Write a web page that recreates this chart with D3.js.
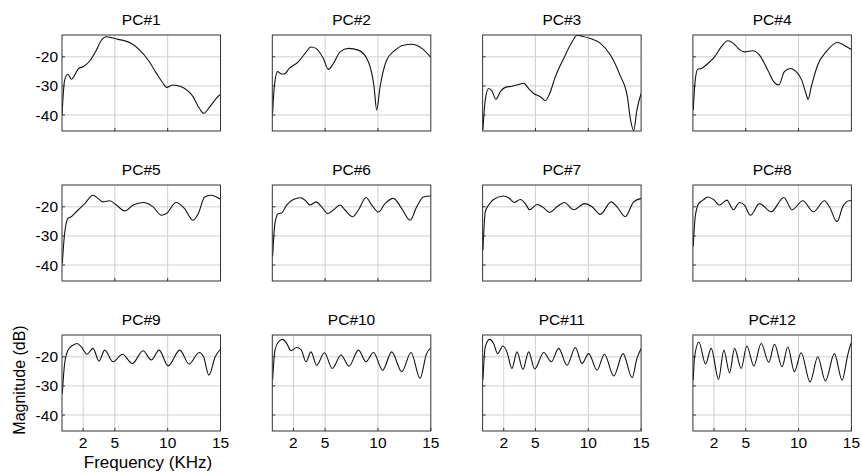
<!DOCTYPE html>
<html>
<head>
<meta charset="utf-8">
<script src="https://cdn.jsdelivr.net/npm/d3@7"></script>
<style>
  body { margin: 0; background: #fff; }
  text { font-family: 'Liberation Sans', Arial, sans-serif; fill: #000; }
</style>
</head>
<body>
<div id="canvas"></div>
<script>
// panel titles and tick labels
const titles = ['PC#1', 'PC#2', 'PC#3', 'PC#4', 'PC#5', 'PC#6', 'PC#7', 'PC#8', 'PC#9', 'PC#10', 'PC#11', 'PC#12']
const yTicks = [-20, -30, -40]
const xTicksTop = [5, 10]
const xTicksBottom = [2, 5, 10, 15]

// magnitude responses, [frequency kHz, dB]
const pc1 = [[0, -40], [0.25, -28], [0.57, -26], [0.88, -27.7], [1.58, -24], [2.0, -23.4], [2.56, -21.7], [3.25, -17.7], [3.73, -14.3], [4.2, -13.1], [4.67, -13.4], [5.3, -14], [5.94, -14.5], [6.57, -15.4], [7.36, -17.7], [8.15, -21.1], [8.94, -25.7], [9.57, -29.1], [9.88, -30.5], [10.5, -29.7], [11.3, -30.3], [12.4, -33.7], [13.0, -37.7], [13.4, -39.4], [14.0, -37.1], [14.6, -34.3], [15, -32.8]]
const pc2 = [[0.03, -39.4], [0.19, -30.3], [0.5, -25.1], [0.88, -25.9], [1.13, -25.9], [1.6, -24], [2.46, -21.7], [3.09, -18.9], [3.66, -16.6], [4.14, -17.1], [4.83, -20.6], [5.31, -24.3], [5.78, -22.3], [6.41, -18.3], [7.2, -17.1], [8.15, -17.7], [9.09, -21.7], [9.63, -30.3], [9.88, -38.3], [10.2, -30.3], [10.83, -21.1], [11.62, -17.7], [12.41, -16], [13.2, -15.7], [14.15, -17.1], [15, -20.2]]
const pc3 = [[0.03, -45.1], [0.25, -34.9], [0.57, -30.9], [0.88, -31.7], [1.26, -34.6], [1.67, -32], [2.15, -30.5], [2.78, -30.1], [3.41, -29.5], [3.88, -29.1], [4.36, -30.9], [4.83, -32.6], [5.46, -33.7], [5.94, -35.1], [6.35, -32.6], [6.88, -26.9], [7.67, -20.6], [8.46, -14.9], [8.94, -12.6], [9.41, -12.9], [10.2, -13.7], [11.15, -15.4], [12.1, -19.4], [13.0, -26.3], [13.7, -33.7], [14.0, -41.7], [14.3, -45.3], [14.6, -38.3], [15, -32.6]]
const pc4 = [[0.03, -38.3], [0.22, -28], [0.47, -24.2], [0.79, -24], [1.42, -22.3], [2.05, -20], [2.68, -16.6], [3.31, -14.5], [3.78, -15.2], [4.41, -17.5], [4.88, -18.3], [5.67, -17.9], [6.3, -19.4], [7.09, -24.6], [7.72, -28.9], [8.13, -29.7], [8.66, -25.1], [9.23, -24], [9.77, -25.1], [10.3, -28], [10.7, -32.6], [10.9, -34.6], [11.2, -30.3], [11.8, -22.9], [12.6, -18.3], [13.7, -15.1], [14.3, -16], [15, -17.5]]
const pc5 = [[0.03, -39.4], [0.25, -29.1], [0.57, -24], [0.88, -23.4], [1.52, -21.1], [2.15, -18.9], [2.94, -16], [3.41, -17.1], [3.88, -18.3], [4.52, -17.9], [5.15, -19.4], [5.94, -21.4], [6.73, -19.4], [7.67, -18.5], [8.62, -20], [9.41, -22.9], [9.88, -22.3], [10.8, -18.5], [11.6, -20.6], [12.4, -24.6], [12.9, -22.3], [13.5, -16.6], [14.1, -16], [15, -17.4]]
const pc6 = [[0.03, -37.1], [0.25, -25.7], [0.57, -22.3], [0.88, -22.1], [1.36, -19.4], [1.99, -17.5], [2.68, -16.9], [3.09, -17.7], [3.57, -19.4], [4.14, -18.3], [4.67, -20], [5.24, -22.3], [5.78, -21.1], [6.41, -19.4], [6.88, -21.1], [7.61, -23.4], [8.15, -21.1], [8.87, -16.8], [9.41, -19.4], [10.04, -21.8], [10.67, -18.9], [11.46, -17.1], [12.25, -20.6], [13.04, -24.6], [13.67, -20], [14.3, -16.6], [15, -16.3]]
const pc7 = [[0.03, -34.9], [0.25, -21.7], [0.57, -19.4], [1.04, -17.5], [1.99, -16.3], [2.46, -16.9], [3.0, -18.5], [3.57, -17.5], [4.04, -18.9], [4.45, -21], [5.15, -19.2], [5.72, -20.2], [6.35, -21.9], [7.04, -20], [7.74, -18.5], [8.62, -21], [9.66, -18.9], [10.36, -20], [11.15, -22.6], [12.16, -18.3], [12.72, -20], [13.5, -23.4], [14.3, -18.3], [15, -17.1]]
const pc8 = [[0.03, -33.7], [0.22, -23.4], [0.54, -18.9], [0.95, -17.7], [1.42, -16.6], [1.95, -17.5], [2.52, -19.4], [3.21, -17.7], [3.84, -21], [4.41, -18.5], [4.88, -19.4], [5.45, -22.9], [6.3, -18.9], [7.41, -21.7], [8.6, -16.8], [9.39, -21], [10.4, -17.9], [11.41, -21.7], [12.45, -17.9], [12.92, -20], [13.64, -25.1], [14.18, -20], [14.8, -17.9], [15, -17.9]]
const pc9 = [[0.03, -32.6], [0.25, -22.3], [0.57, -17.7], [1.04, -16], [1.42, -15.4], [1.83, -16.6], [2.37, -19.1], [2.94, -17.1], [3.5, -21.5], [4.04, -17.7], [4.83, -21.7], [5.72, -19.1], [6.66, -22.3], [7.67, -17.9], [8.46, -21.1], [9.19, -17.7], [10.04, -23.1], [11.15, -17.7], [12.03, -22.5], [12.98, -18.5], [13.4, -20], [13.9, -26.3], [14.5, -20], [15, -17.4]]
const pc10 = [[0.03, -28], [0.25, -17.7], [0.57, -14.9], [0.98, -14], [1.36, -15.4], [1.77, -17.9], [2.3, -16.8], [2.72, -17.5], [3.19, -21.7], [3.66, -18.3], [4.2, -22.9], [4.93, -18.6], [5.68, -24], [6.5, -19.4], [7.26, -23.2], [8.15, -17.7], [8.87, -21.7], [9.57, -18.5], [10.45, -24.6], [11.3, -18.3], [12.25, -25.1], [13.13, -18.5], [13.98, -27.4], [14.6, -18.9], [15, -16.9]]
const pc11 = [[0.03, -28], [0.25, -16.6], [0.66, -14], [1.04, -15.4], [1.42, -18.9], [1.93, -16.3], [2.3, -18.3], [2.78, -24], [3.25, -18.3], [3.82, -24.3], [4.36, -18.3], [4.93, -24.2], [5.78, -18.5], [6.5, -21.7], [7.2, -17.1], [7.99, -22.9], [8.78, -16.8], [9.41, -22.3], [10.04, -18.9], [10.83, -24.6], [11.53, -19.1], [12.41, -26.6], [13.29, -18.9], [14.15, -27.2], [14.6, -20.6], [15, -17.1]]
const pc12 = [[0.03, -28], [0.16, -20], [0.57, -14.9], [1.2, -22.5], [1.73, -17.1], [2.43, -27.7], [2.93, -17.7], [3.47, -25.5], [3.94, -17.1], [4.57, -24], [5.1, -16.3], [5.77, -23.1], [6.46, -15.4], [7.18, -21.9], [7.72, -15.7], [8.44, -23.4], [8.98, -16.6], [9.61, -25.1], [10.24, -18.6], [11.09, -28.6], [11.82, -20], [12.54, -28.3], [13.39, -18.9], [14.12, -28], [14.65, -19.4], [14.94, -15.4]]

const series = [pc1, pc2, pc3, pc4, pc5, pc6, pc7, pc8, pc9, pc10, pc11, pc12]

var width = 862, height = 475
var pw = 158.5, ph = 96
var colStep = 210.3, rowStep = 150
var left0 = 62, top0 = 35

var svg = d3.select('#canvas')
  .append('svg')
  .attr('width', width)
  .attr('height', height)

var x = d3.scaleLinear().domain([0, 15]).range([0, pw])
var y = d3.scaleLinear().domain([-45.5, -12.5]).range([ph, 0])

var line = d3.line()
  .x(d => x(d[0]))
  .y(d => y(d[1]))
  .curve(d3.curveMonotoneX)

series.forEach((data, i) => {
  const col = i % 4
  const row = Math.floor(i / 4)
  const bottomRow = row === 2
  const g = svg.append('g')
    .attr('transform', `translate(${left0 + col * colStep},${top0 + row * rowStep})`)

  const xt = bottomRow ? xTicksBottom : xTicksTop

  // grid
  g.selectAll('.gy').data(yTicks).enter().append('line')
    .attr('x1', 0).attr('x2', pw)
    .attr('y1', d => y(d)).attr('y2', d => y(d))
    .attr('stroke', '#d0d0d0').attr('stroke-width', 1)
  g.selectAll('.gx').data(xt.filter(d => d < 15)).enter().append('line')
    .attr('y1', 0).attr('y2', ph)
    .attr('x1', d => x(d)).attr('x2', d => x(d))
    .attr('stroke', '#d0d0d0').attr('stroke-width', 1)

  g.append('clipPath').attr('id', 'clip' + i)
    .append('rect').attr('width', pw).attr('height', ph)

  g.append('path')
    .datum(data)
    .attr('d', line)
    .attr('fill', 'none')
    .attr('stroke', '#111')
    .attr('stroke-width', 1.1)
    .attr('clip-path', `url(#clip${i})`)

  g.append('rect')
    .attr('width', pw).attr('height', ph)
    .attr('fill', 'none')
    .attr('stroke', '#333')
    .attr('stroke-width', 1)

  // small inward ticks
  g.selectAll('.tx').data(xt).enter().append('line')
    .attr('x1', d => x(d)).attr('x2', d => x(d))
    .attr('y1', ph).attr('y2', ph - 3)
    .attr('stroke', '#333')
  g.selectAll('.ty').data(yTicks).enter().append('line')
    .attr('x1', 0).attr('x2', 3)
    .attr('y1', d => y(d)).attr('y2', d => y(d))
    .attr('stroke', '#333')

  g.append('text')
    .text(titles[i])
    .attr('x', pw / 2)
    .attr('y', -10.5)
    .attr('text-anchor', 'middle')
    .attr('font-size', '15.5px')

  if (col === 0) {
    g.selectAll('.yl').data(yTicks).enter().append('text')
      .text(d => d)
      .attr('x', -4)
      .attr('y', d => y(d))
      .attr('dy', '0.36em')
      .attr('text-anchor', 'end')
      .attr('font-size', '15.5px')
  }
  if (bottomRow) {
    g.selectAll('.xl').data(xTicksBottom).enter().append('text')
      .text(d => d)
      .attr('x', d => x(d))
      .attr('y', ph + 17)
      .attr('text-anchor', 'middle')
      .attr('font-size', '15.5px')
  }
})

svg.append('text')
  .text('Frequency (KHz)')
  .attr('x', 148)
  .attr('y', 468)
  .attr('text-anchor', 'middle')
  .attr('font-size', '17px')

svg.append('text')
  .text('Magnitude (dB)')
  .attr('transform', 'translate(25,380) rotate(-90)')
  .attr('text-anchor', 'middle')
  .attr('font-size', '16px')
</script>
</body>
</html>
